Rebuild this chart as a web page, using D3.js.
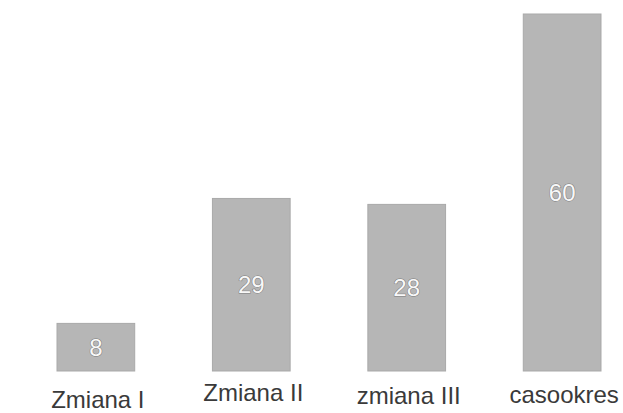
<!DOCTYPE html>
<html>
<head>
<meta charset="utf-8">
<script src="https://cdn.jsdelivr.net/npm/d3@7"></script>
<style>
  body { margin: 0; background: #fff; }
  text { font-family: "Liberation Sans", Arial, sans-serif; }
</style>
</head>
<body>
<div id="chart-area"></div>
<script>
// data
var categories = ["Zmiana I", "Zmiana II", "zmiana III", "casookres"];
var values = [8, 29, 28, 60];

// layout: baseline of each category label (staggered like the scan)
var labelBaseline = [408, 401, 404, 403];

var width = 623;
var height = 413;

var svg = d3.select("#chart-area").append("svg")
    .attr("width", width)
    .attr("height", height);

var data = categories.map((c, i) => {
    return { name: c, value: values[i], base: labelBaseline[i] };
});

var x = d3.scaleBand()
    .domain(categories)
    .range([57, 601])
    .paddingInner(0.5)
    .paddingOuter(0);

var y = d3.scaleLinear()
    .domain([0, 60])
    .range([371, 14]);

// bars
svg.selectAll("rect.bar")
    .data(data)
    .enter()
    .append("rect")
    .attr("class", "bar")
    .attr("x", (d) => { return x(d.name); })
    .attr("y", (d) => { return y(d.value); })
    .attr("width", x.bandwidth())
    .attr("height", (d) => { return y(0) - y(d.value); })
    .attr("fill", "#b6b6b6")
    .attr("stroke", "#a9a9a9")
    .attr("stroke-width", 1);

// value labels, white with grey outline
svg.selectAll("text.value")
    .data(data)
    .enter()
    .append("text")
    .attr("class", "value")
    .attr("x", (d) => { return x(d.name) + x.bandwidth() / 2; })
    .attr("y", (d) => { return (y(d.value) + y(0)) / 2; })
    .attr("dy", "0.36em")
    .attr("text-anchor", "middle")
    .attr("font-size", "24px")
    .attr("fill", "#f8f8f8")
    .attr("stroke", "#7a7a7a")
    .attr("stroke-width", 1)
    .attr("paint-order", "stroke")
    .text((d) => { return d.value; });

// category labels
svg.selectAll("text.cat")
    .data(data)
    .enter()
    .append("text")
    .attr("class", "cat")
    .attr("x", (d) => { return x(d.name) + x.bandwidth() / 2 + 2; })
    .attr("y", (d) => { return d.base; })
    .attr("text-anchor", "middle")
    .attr("font-size", "24px")
    .attr("fill", "#3a3a3a")
    .text((d) => { return d.name; });
</script>
</body>
</html>
